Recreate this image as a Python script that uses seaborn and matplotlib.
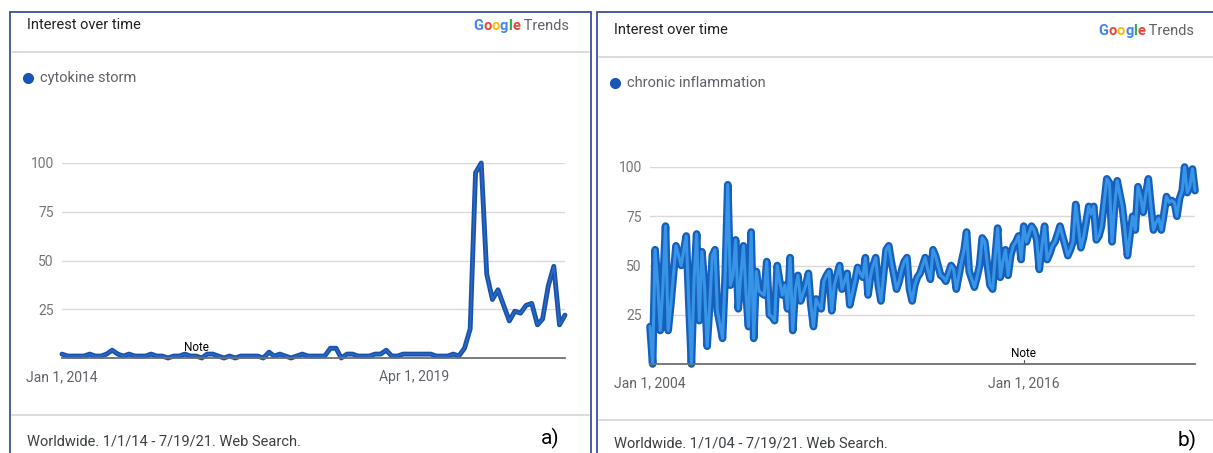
import numpy as np
import pandas as pd
import matplotlib
matplotlib.use('Agg')
import matplotlib.pyplot as plt
from matplotlib.patches import Rectangle
from matplotlib.lines import Line2D
import seaborn as sns

# cytokine storm, monthly Jan 2014 - Jul 2021
storm_values = [2, 1, 1, 1, 1, 2, 1, 1, 2, 4, 2, 1, 2, 1, 1, 1, 2, 1, 1, 0,
                1, 1, 2, 1, 1, 0, 2, 2, 1, 0, 1, 0, 1, 1, 1, 1, 0, 3, 1, 2,
                1, 0, 1, 2, 1, 1, 1, 1, 5, 5, 0, 2, 2, 1, 1, 1, 2, 2, 4, 1,
                1, 2, 2, 2, 2, 2, 2, 1, 1, 1, 2, 1, 5, 15, 95, 100, 43, 30, 35, 27,
                19, 24, 23, 27, 28, 17, 20, 37, 47, 17, 22]
storm_dates = pd.date_range('2014-01-01', periods=len(storm_values), freq='MS')

# chronic inflammation, monthly Jan 2004 - Jul 2021
chronic_values = [19, 0, 58, 40, 17, 40, 70, 17, 30, 45, 60, 55, 50, 58, 65, 30, 0, 43, 66, 22,
                  57, 40, 9, 30, 55, 58, 27, 20, 13, 45, 91, 40, 45, 63, 28, 45, 60, 35, 19, 67,
                  13, 47, 37, 36, 35, 52, 25, 24, 22, 50, 42, 35, 40, 28, 54, 17, 38, 45, 32, 36,
                  40, 46, 30, 19, 33, 30, 28, 42, 45, 47, 27, 40, 45, 50, 38, 42, 46, 30, 36, 42,
                  49, 46, 44, 54, 35, 45, 50, 54, 40, 32, 45, 58, 60, 52, 45, 38, 42, 48, 52, 54,
                  38, 32, 40, 44, 46, 50, 54, 48, 43, 58, 55, 50, 45, 44, 42, 46, 50, 48, 38, 45,
                  52, 58, 67, 47, 43, 39, 44, 50, 64, 62, 50, 40, 38, 55, 69, 44, 52, 58, 45, 55,
                  60, 62, 65, 53, 70, 62, 66, 70, 68, 63, 48, 60, 70, 53, 56, 60, 62, 66, 70, 65,
                  60, 55, 58, 62, 81, 70, 59, 64, 72, 80, 76, 80, 63, 65, 70, 82, 94, 92, 62, 80,
                  93, 86, 80, 68, 55, 66, 75, 68, 90, 85, 77, 86, 94, 80, 68, 72, 74, 68, 76, 85,
                  82, 83, 82, 75, 84, 88, 100, 87, 90, 99, 88]
chronic_dates = pd.date_range('2004-01-01', periods=len(chronic_values), freq='MS')

storm_df = pd.DataFrame({'date': storm_dates, 'interest': storm_values})
chronic_df = pd.DataFrame({'date': chronic_dates, 'interest': chronic_values})

y_ticks = [25, 50, 75, 100]
note_date = pd.Timestamp('2016-01-01')

W, H = 1213, 453
sns.set_style('white')
plt.rcParams['font.family'] = ['Roboto', 'DejaVu Sans']

fig = plt.figure(figsize=(W / 100, H / 100), dpi=100)


def fx(x):
    return x / W


def fy(y):
    return 1 - y / H


def hline(x0, x1, y, color='#d5d5d5', lw=1.2):
    fig.add_artist(Line2D([fx(x0), fx(x1)], [fy(y), fy(y)], color=color, lw=lw,
                          transform=fig.transFigure))


def google_trends(x_right, y):
    # draw the "Google Trends" logo letter by letter, right aligned
    parts = [('G', '#4285F4'), ('o', '#EA4335'), ('o', '#FBBC05'), ('g', '#4285F4'),
             ('l', '#34A853'), ('e', '#EA4335'), (' Trends', '#5f6368')]
    r = fig.canvas.get_renderer()
    texts = []
    for s, c in parts:
        t = fig.text(0, fy(y), s, color=c, fontsize=10.5, va='center',
                     fontweight='bold' if s != ' Trends' else 'normal')
        texts.append(t)
    widths = [t.get_window_extent(r).width for t in texts]
    x = x_right - sum(widths)
    for t, w in zip(texts, widths):
        t.set_x(fx(x))
        x += w


def panel(left, right, top, head_y, sep1, sep2, foot_y, label, label_x,
          term, footer, axbox, df, date_labels, big):
    fig.add_artist(Rectangle((fx(left), fy(H + 5)), fx(right - left), fy(top) - fy(H + 5),
                             fill=False, edgecolor='#3d4fa0', lw=1.3,
                             transform=fig.transFigure))
    fig.text(fx(left + 17), fy(head_y), 'Interest over time', fontsize=10.5,
             color='#202124', va='center')
    google_trends(right - 22, head_y + 1)
    hline(left + 2, right - 2, sep1)
    # legend dot
    fig.add_artist(Line2D([fx(left + 18)], [fy(sep1 + 26)], marker='o', ms=7,
                          color='#1a56b8', lw=0, transform=fig.transFigure))
    fig.text(fx(left + 30), fy(sep1 + 26), term, fontsize=10.5, color='#5f6368',
             va='center')
    hline(left + 2, right - 2, sep2)
    fig.text(fx(left + 17), fy(foot_y), footer, fontsize=10.5, color='#3c4043',
             va='center')
    fig.text(fx(label_x), fy(foot_y - 3), label, fontsize=15, color='black',
             va='center')

    x0, x1, ytop, ybot = axbox
    ax = fig.add_axes([fx(x0), fy(ybot), fx(x1 - x0), fy(ytop) - fy(ybot)])
    if big:
        sns.lineplot(data=df, x='date', y='interest', ax=ax, color='#1660bd',
                     lw=5.5, clip_on=False)
        sns.lineplot(data=df, x='date', y='interest', ax=ax, color='#3794e6',
                     lw=2.2, clip_on=False)
    else:
        sns.lineplot(data=df, x='date', y='interest', ax=ax, color='#1a52aa',
                     lw=3.5, clip_on=False)
        sns.lineplot(data=df, x='date', y='interest', ax=ax, color='#2a6cc8',
                     lw=1.0, clip_on=False)
    ax.set_xlim(df['date'].iloc[0], df['date'].iloc[-1])
    ax.set_ylim(0, 100)
    ax.set_yticks(y_ticks)
    ax.set_yticklabels([str(v) for v in y_ticks])
    ax.set_xticks([pd.Timestamp(d) for d, _ in date_labels])
    ax.set_xticklabels([s for _, s in date_labels])
    ax.grid(axis='y', color='#d9d9d9', lw=1)
    ax.set_axisbelow(True)
    for s in ['top', 'right', 'left']:
        ax.spines[s].set_visible(False)
    ax.spines['bottom'].set_color('#707070')
    ax.spines['bottom'].set_linewidth(1.3)
    ax.tick_params(axis='y', length=0, pad=6, labelsize=10, labelcolor='#757575')
    ax.tick_params(axis='x', length=0, pad=9, labelsize=10, labelcolor='#5f6368')
    ax.set_xlabel('')
    ax.set_ylabel('')
    ax.axvline(note_date, ymin=0, ymax=0.02, color='#555555', lw=0.8)
    ax.annotate('Note', xy=(note_date, 0), xytext=(0, 3), textcoords='offset points',
                ha='center', va='bottom', fontsize=8.5, color='black')
    return ax


panel(10, 591, 12, 25, 52, 415, 441, 'a)', 541, 'cytokine storm',
      'Worldwide. 1/1/14 - 7/19/21. Web Search.', (62, 565, 163, 358), storm_df,
      [('2014-01-01', 'Jan 1, 2014'), ('2019-04-01', 'Apr 1, 2019')], False)
panel(597, 1216, 12, 30, 57, 420, 443, 'b)', 1178, 'chronic inflammation',
      'Worldwide. 1/1/04 - 7/19/21. Web Search.', (650, 1195, 167, 364), chronic_df,
      [('2004-01-01', 'Jan 1, 2004'), ('2016-01-01', 'Jan 1, 2016')], True)

fig.savefig('out.png', dpi=100)
